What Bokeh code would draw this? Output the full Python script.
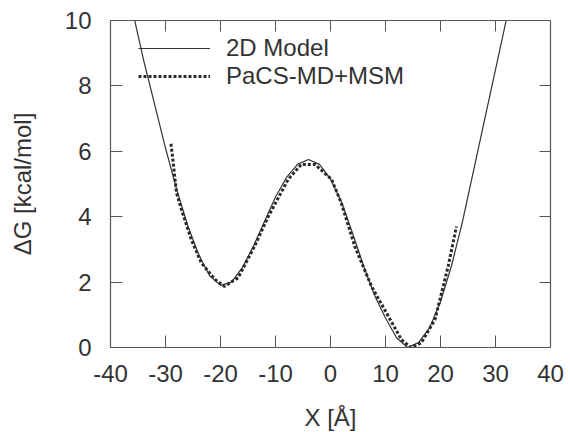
from bokeh.plotting import figure
from bokeh.models import LinearAxis, FixedTicker, Legend, LegendItem, Range1d
from bokeh.embed import file_html
from bokeh.resources import INLINE

# 2D Model (solid)
model_x = [-36, -34, -32, -30, -28, -26, -24, -22, -20, -18, -16, -14, -12, -10, -8, -6, -4, -2,
           0, 2, 4, 6, 8, 10, 12, 14, 16, 18, 20, 22, 24, 26, 28, 30, 32]
model_g = [10.3, 8.8, 7.45, 6.1, 4.85, 3.75, 2.85, 2.2, 1.9, 2.0, 2.45, 3.1, 3.85, 4.6, 5.2, 5.6, 5.75, 5.6,
           5.15, 4.45, 3.5, 2.5, 1.6, 0.9, 0.3, 0.0, 0.15, 0.6, 1.4, 2.5, 3.85, 5.4, 6.95, 8.5, 10.05]

# PaCS-MD+MSM (dotted)
msm_x = [-29.0, -28.6, -28.0, -27.1, -25.3, -23.5, -21.0, -19.3, -16.8, -13.8, -11.3, -7.7, -5.3, -2.85,
         0.2, 2.0, 4.4, 7.45, 10.5, 12.9, 14.6, 16.5, 19.0, 21.4, 22.9]
msm_g = [6.23, 5.65, 4.73, 4.22, 3.3, 2.59, 2.08, 1.87, 2.13, 3.1, 4.01, 5.14, 5.6, 5.6,
         5.14, 4.4, 3.1, 1.87, 0.96, 0.24, 0.0, 0.14, 0.86, 2.49, 3.7]

x_ticks = [-40, -30, -20, -10, 0, 10, 20, 30, 40]
x_tick_labels = ["-40", "-30", "-20", "-10", "0", "10", "20", "30", "40"]
y_ticks = [0, 2, 4, 6, 8, 10]
y_tick_labels = ["0", "2", "4", "6", "8", "10"]

FONT = "Liberation Sans"
FS = "24px"
TXT = "#333333"
AX = "#555555"

p = figure(output_backend="svg", toolbar_location=None,
           x_range=Range1d(-40, 40), y_range=Range1d(0, 10),
           frame_width=440, frame_height=327,
           min_border_left=110, min_border_top=20, min_border_right=15, min_border_bottom=80)
p.xgrid.visible = False
p.ygrid.visible = False
p.outline_line_color = AX
p.outline_line_width = 1.2
p.background_fill_color = "white"
p.border_fill_color = "white"

for ax in (p.xaxis[0], p.yaxis[0]):
    ax.major_tick_in = 12
    ax.major_tick_out = 0
    ax.minor_tick_in = 0
    ax.minor_tick_out = 0
    ax.major_tick_line_color = AX
    ax.axis_line_color = AX
    ax.major_label_text_font = FONT
    ax.major_label_text_font_size = FS
    ax.major_label_text_color = TXT
    ax.axis_label_text_font = FONT
    ax.axis_label_text_font_size = FS
    ax.axis_label_text_font_style = "normal"
    ax.axis_label_text_color = TXT

p.xaxis[0].ticker = FixedTicker(ticks=x_ticks)
p.yaxis[0].ticker = FixedTicker(ticks=y_ticks)
p.xaxis[0].major_label_overrides = dict(zip(x_ticks, x_tick_labels))
p.yaxis[0].major_label_overrides = dict(zip(y_ticks, y_tick_labels))
p.xaxis[0].axis_label = "X [Å]"
p.yaxis[0].axis_label = "ΔG [kcal/mol]"
p.xaxis[0].major_label_standoff = 17
p.yaxis[0].major_label_standoff = 19
p.xaxis[0].axis_label_standoff = 19
p.yaxis[0].axis_label_standoff = 26

top = LinearAxis(ticker=FixedTicker(ticks=x_ticks))
right = LinearAxis(ticker=FixedTicker(ticks=y_ticks))
top.major_label_overrides = {t: "" for t in x_ticks}
right.major_label_overrides = {t: "" for t in y_ticks}
for ax in (top, right):
    ax.major_tick_in = 11
    ax.major_tick_out = 0
    ax.minor_tick_in = 0
    ax.minor_tick_out = 0
    ax.major_tick_line_color = AX
    ax.axis_line_color = AX
    ax.major_label_standoff = 0
p.add_layout(top, "above")
p.add_layout(right, "right")

r1 = p.line(model_x, model_g, line_color="#333333", line_width=1.2)
r2 = p.line(msm_x, msm_g, line_color="#2a2a2a", line_width=3, line_dash="3 2")

legend = Legend(items=[LegendItem(label="2D Model", renderers=[r1]),
                       LegendItem(label="PaCS-MD+MSM", renderers=[r2])],
                location=(28, 257), padding=0, margin=0, spacing=0,
                glyph_width=72, glyph_height=28, label_height=28, label_standoff=16,
                label_text_font=FONT, label_text_font_size=FS, label_text_color=TXT,
                border_line_color=None, background_fill_alpha=0)
p.add_layout(legend)

open("out.html", "w").write(file_html(p, INLINE))
